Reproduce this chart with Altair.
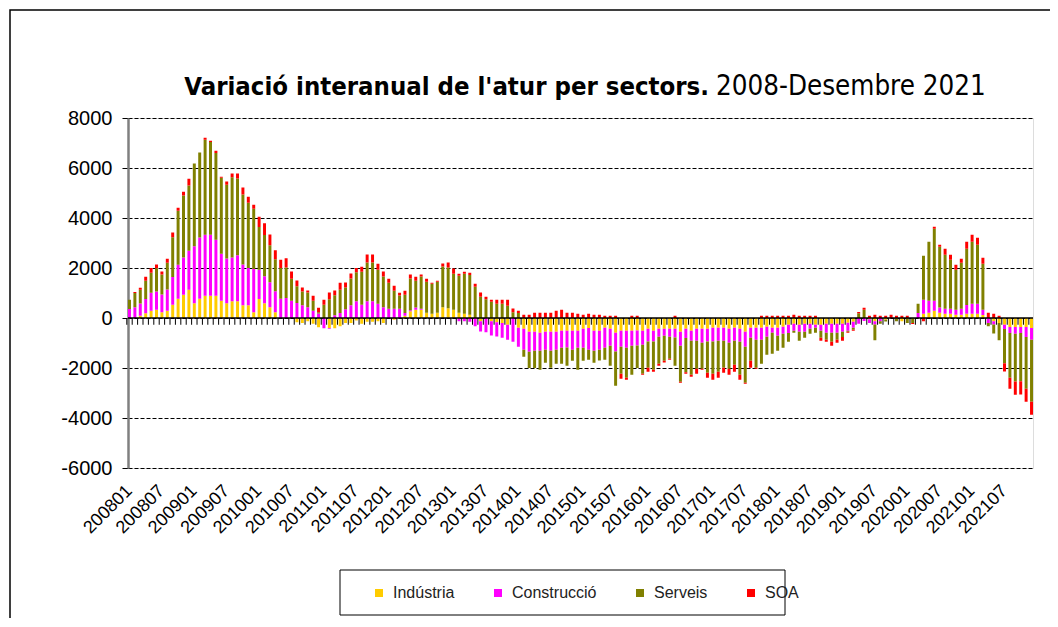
import altair as alt
import pandas as pd

months = [f"{y}{m:02d}" for y in range(2008, 2022) for m in range(1, 13)]

industria = [
    0, 0, 90, 190, 290, 330, 230, 290, 530, 770, 930, 1130,
    590, 770, 890, 890, 890, 690, 590, 670, 670, 510, 510, 230,
    760, 590, 430, 230, 0, 0, 0, -170, -200, -130, -230, -370,
    0, -400, -410, -330, -200, -200, -100, -230, -150, -150, -130, -200,
    0, -70, 0, 90, 270, 330, 330, 210, 170, 210, 430, 390,
    330, 210, 170, 130, 0, -130, 0, -130, -170, -200, -270, 0,
    -390, -430, -550, -550, -590, -550, -550, -550, -510, -510, -510, -510,
    -430, -400, -510, -510, -390, -430, -590, -510, -510, -510, -500, -510,
    -430, -510, -430, -430, -430, -430, -550, -430, -510, -430, -430, -430,
    -390, -390, -390, -430, -390, -430, -550, -390, -390, -390, -350, -390,
    -390, -350, -270, -230, -270, -230, -230, -270, -270, -230, -230, -230,
    -230, -190, -150, 0, 0, -50, -130, 0, -70, 0, 0, -130,
    0, 0, 0, 170, 210, 290, 210, 170, 170, 130, 130, 170,
    170, 170, 120, 0, -130, -200, -270, -360, -360, -360, -360, -400,
]
construccio = [
    360, 430, 490, 570, 720, 730, 710, 850, 1110, 1360, 1490, 1560,
    2280, 2450, 2440, 2440, 2240, 1880, 1790, 1750, 1840, 1630, 1490, 1730,
    1170, 1080, 1000, 840, 770, 800, 690, 600, 510, 430, 290, 180,
    -410, -30, 110, 200, 350, 510, 670, 530, 670, 670, 570, 430,
    370, 370, 370, 110, 40, 90, 40, 0, 0, 0, 0, 0,
    0, -130, -130, -150, -330, -410, -570, -570, -570, -590, -600, -950,
    -760, -840, -800, -760, -720, -720, -760, -720, -680, -670, -760, -680,
    -760, -870, -800, -760, -800, -680, -750, -640, -680, -600, -600, -560,
    -510, -430, -320, -280, -320, -350, -560, -370, -400, -480, -560, -510,
    -550, -520, -520, -560, -520, -520, -600, -400, -480, -480, -400, -200,
    -320, -280, -330, -280, -280, -320, -200, -120, -240, -360, -360, -360,
    -320, -320, -240, -230, -120, -150, -130, -130, 0, 0, 0, 0,
    0, 0, 200, 560, 480, 400, 210, 200, 200, 200, 240, 350,
    400, 400, 210, -200, -130, 0, -170, -240, -270, -240, -400, -470,
]
serveis = [
    370, 570, 550, 730, 800, 930, 800, 1070, 1590, 2160, 2480, 2610,
    3310, 3400, 3800, 3710, 3470, 3040, 2950, 3210, 3070, 2800, 2610, 2410,
    1710, 1650, 1480, 1280, 1230, 1220, 880, 670, 550, 590, 400, 50,
    530, 750, 800, 930, 870, 1070, 1160, 1320, 1550, 1550, 1360, 1230,
    1040, 720, 530, 730, 1270, 1070, 1290, 1240, 1200, 1240, 1630, 1630,
    1440, 1480, 1600, 1590, 1250, 850, 750, 650, 570, 570, 490, 230,
    200, -280, -650, -690, -760, -520, -680, -560, -640, -730, -440, -880,
    -520, -400, -480, -430, -480, -800, -1370, -1080, -1200, -1160, -900, -1160,
    -1050, -1130, -1080, -1000, -880, -1130, -1440, -1370, -1360, -1120, -1040, -1250,
    -1290, -1240, -1080, -1040, -960, -1320, -1440, -920, -1120, -960, -720, -840,
    -600, -560, -350, -80, -360, -240, -200, -200, -280, -280, -360, -280,
    -210, -40, -80, 190, 330, 0, -630, -100, -70, 0, -130, 0,
    -200, -200, 370, 1760, 2360, 2880, 2430, 2160, 1960, 1600, 1840, 2250,
    2480, 2360, 1840, -130, -360, -690, -1370, -1790, -1910, -1930, -2070, -2480,
]
soa = [
    0, 40, 80, 160, 190, 150, 120, 160, 190, 120, 150, 270,
    0, 0, 80, 50, 90, 40, 130, 150, 200, 280, 240, 160,
    410, 470, 430, 360, 330, 370, 290, 230, 160, 80, 200, 180,
    200, 270, 190, 280, 200, 200, 170, 200, 320, 320, 240, 200,
    160, 200, 110, 160, 160, 160, 80, 120, 40, 40, 120, 200,
    210, 80, 80, 90, 120, 170, 100, 80, 160, 160, 240, 150,
    90, 130, 130, 210, 210, 210, 210, 290, 330, 210, 210, 170,
    130, 170, 130, 130, 90, 90, 90, -200, -80, 90, 90, -40,
    -160, -80, -80, -70, -40, 90, -40, -60, -80, -200, -40, -200,
    -240, -240, -200, -240, -280, -200, -40, -280, -40, 90, 90, 90,
    90, 90, 90, 130, 90, 90, 90, 90, -120, -80, -160, -120,
    -150, -40, -40, 50, 80, 90, 130, 90, 90, 130, 90, 90,
    90, -40, 0, -130, 0, 80, 80, 240, 200, 200, 160, 280,
    280, 280, 240, 210, 170, 90, -330, -440, -530, -530, -520, -520,
]

series_names = ["Indústria", "Construcció", "Serveis", "SOA"]
series_colors = ["#FFCC00", "#FF00FF", "#808000", "#FF0000"]
y_tick_values = [-6000, -4000, -2000, 0, 2000, 4000, 6000, 8000]
title_bold = "Variació interanual de l'atur per sectors."
title_regular = "2008-Desembre 2021"

rows = []
for k, (name, vals) in enumerate(zip(series_names, [industria, construccio, serveis, soa])):
    for m, v in zip(months, vals):
        rows.append({"mes": m, "sector": name, "valor": v, "ordre": k})
df = pd.DataFrame(rows)

FONT = "Liberation Sans, Arial, sans-serif"
TFONT = "DejaVu Sans Condensed, Liberation Sans Narrow, Arial Narrow, sans-serif"
W, H = 905, 350

# label every 6th month (01 and 07)
x_axis = alt.Axis(labelExpr="(slice(datum.value, 4, 6) == '01' || slice(datum.value, 4, 6) == '07') ? datum.value : ''",
                  labelAngle=-45, labelAlign="right",
                  labelBaseline="middle", labelFontSize=18, labelFont=FONT,
                  labelColor="black", ticks=False, domain=False, labelPadding=20,
                  title=None, labelOverlap=False, labelFlush=False, labelBound=False)
x_scale = alt.Scale(paddingInner=0.45, paddingOuter=0)
y_axis = alt.Axis(values=y_tick_values, labelExpr="'' + datum.value", labelFontSize=20,
                  labelFont=FONT, labelColor="black",
                  grid=True, gridColor="black", gridDash=[4, 2], gridWidth=1,
                  domainColor="#808080", domainWidth=2.5, tickColor="black", tickSize=6,
                  labelPadding=10, title=None)
y_scale = alt.Scale(domain=[-6000, 8000], nice=False)

bars = alt.Chart(df).mark_bar().encode(
    x=alt.X("mes:N", sort=months, scale=x_scale, axis=x_axis, title=None),
    y=alt.Y("valor:Q", stack="zero", scale=y_scale, axis=y_axis, title=None),
    color=alt.Color("sector:N", scale=alt.Scale(domain=series_names, range=series_colors),
                    legend=alt.Legend(orient="none", legendX=243, legendY=467,
                                      direction="horizontal", columns=4, title=None,
                                      symbolType="square", symbolSize=64, symbolStrokeWidth=0,
                                      labelFontSize=16, labelFont=FONT, labelColor="#222",
                                      labelOffset=6, columnPadding=35, padding=0)),
    order=alt.Order("ordre:Q", sort="ascending"),
)

tick_df = pd.DataFrame({"mes": months, "y0": [0] * len(months), "y1": [-270] * len(months)})
ticks = alt.Chart(tick_df).mark_rule(color="black", strokeWidth=1, xOffset=-1.2).encode(
    x=alt.X("mes:N", sort=months, scale=x_scale, axis=x_axis, bandPosition=0, title=None),
    y=alt.Y("y0:Q", scale=y_scale, axis=y_axis, title=None),
    y2="y1:Q",
)

zero = alt.Chart(pd.DataFrame({"z": [0]})).mark_rule(color="black", strokeWidth=1.5).encode(
    y=alt.Y("z:Q", scale=y_scale, axis=y_axis, title=None)
)

one = pd.DataFrame({"a": [0]})
legend_box = alt.Chart(one).mark_rect(fill="white", stroke="black", strokeWidth=1).encode(
    x=alt.value(212), x2=alt.value(657), y=alt.value(452), y2=alt.value(497)
)
outer_frame = alt.Chart(one).mark_rect(fill="white", fillOpacity=0, stroke="black", strokeWidth=1.5).encode(
    x=alt.value(-118), x2=alt.value(940), y=alt.value(-108), y2=alt.value(520)
)

t1 = alt.Chart(pd.DataFrame({"t": [title_bold]})).mark_text(
    align="right", baseline="alphabetic", fontSize=25.5, fontWeight="bold", font=TFONT, color="black"
).encode(text="t:N", x=alt.value(581), y=alt.value(-23))
t2 = alt.Chart(pd.DataFrame({"t": [title_regular]})).mark_text(
    align="left", baseline="alphabetic", fontSize=27.5, fontWeight="normal", font=TFONT, color="black"
).encode(text="t:N", x=alt.value(588), y=alt.value(-23))

chart = alt.layer(outer_frame, legend_box, ticks, bars, zero, t1, t2).properties(
    width=W, height=H,
    autosize=alt.AutoSizeParams(type="none"),
    padding={"left": 120, "top": 110, "right": 17, "bottom": 150},
).configure_view(stroke="#808080", strokeWidth=2).configure(background="white")

chart.save("out.html", embed_options={"renderer": "svg", "actions": False})
